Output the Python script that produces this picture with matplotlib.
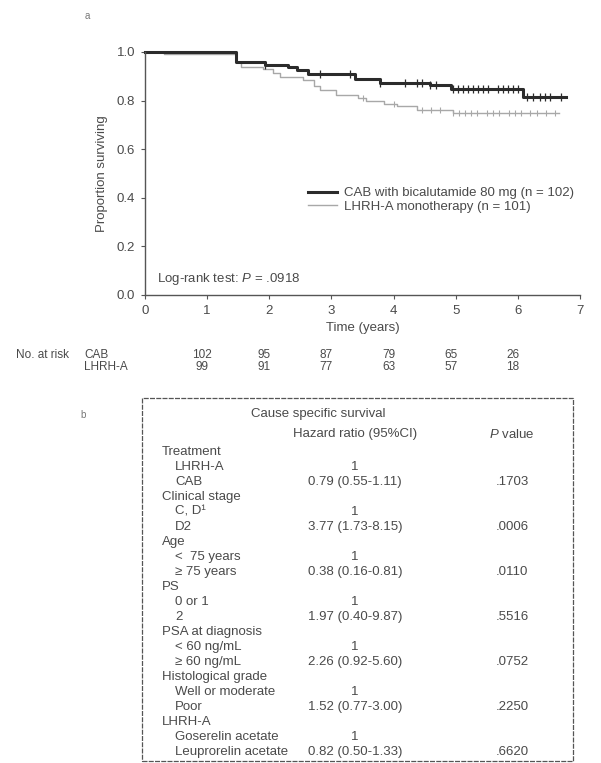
import matplotlib
matplotlib.use("Agg")
import matplotlib.pyplot as plt
import matplotlib.patches as mpatches
from matplotlib.lines import Line2D
from matplotlib.transforms import blended_transform_factory

plt.rcParams['font.family'] = ['Liberation Sans', 'DejaVu Sans']
plt.rcParams['mathtext.fontset'] = 'custom'
plt.rcParams['mathtext.rm'] = 'Liberation Sans'
plt.rcParams['mathtext.it'] = 'Liberation Sans:italic'

# Kaplan-Meier steps (time in years, proportion surviving)
cab_times = [0, 1.47, 1.93, 2.30, 2.45, 2.62, 3.38, 3.78, 4.58, 4.92, 6.08]
cab_surv = [1.0, 0.960, 0.948, 0.938, 0.924, 0.910, 0.889, 0.874, 0.863, 0.849, 0.815]
cab_end = 6.78
cab_censor = [1.93, 2.81, 3.30, 3.78, 4.18, 4.37, 4.45, 4.58, 4.69, 4.96, 5.04, 5.12,
              5.20, 5.28, 5.36, 5.44, 5.52, 5.68, 5.76, 5.84, 5.92, 6.00, 6.14, 6.24,
              6.35, 6.43, 6.51, 6.70]

lhrh_times = [0, 0.30, 1.47, 1.55, 1.90, 2.06, 2.17, 2.54, 2.72, 2.82, 3.08, 3.43,
              3.56, 3.84, 4.05, 4.37, 4.95]
lhrh_surv = [1.0, 0.990, 0.958, 0.940, 0.929, 0.912, 0.898, 0.884, 0.862, 0.845,
             0.824, 0.810, 0.800, 0.787, 0.776, 0.760, 0.750]
lhrh_end = 6.67
lhrh_censor = [3.50, 4.00, 4.45, 4.60, 4.75, 4.95, 5.05, 5.15, 5.25, 5.35, 5.50, 5.60,
               5.70, 5.85, 5.95, 6.05, 6.20, 6.30, 6.45, 6.60]

# number at risk
risk_times = [1, 2, 3, 4, 5, 6]
risk_cab = [102, 95, 87, 79, 65, 26]
risk_lhrh = [99, 91, 77, 63, 57, 18]

# table b
row_labels = ["Treatment", "LHRH-A", "CAB", "Clinical stage", "C, D\u00b9", "D2", "Age",
              "<  75 years", "\u2265 75 years", "PS", "0 or 1", "2", "PSA at diagnosis",
              "< 60 ng/mL", "\u2265 60 ng/mL", "Histological grade", "Well or moderate",
              "Poor", "LHRH-A", "Goserelin acetate", "Leuprorelin acetate"]
row_indent = [0, 1, 1, 0, 1, 1, 0, 1, 1, 0, 1, 1, 0, 1, 1, 0, 1, 1, 0, 1, 1]
hazard = ["", "1", "0.79 (0.55-1.11)", "", "1", "3.77 (1.73-8.15)", "", "1",
          "0.38 (0.16-0.81)", "", "1", "1.97 (0.40-9.87)", "", "1", "2.26 (0.92-5.60)",
          "", "1", "1.52 (0.77-3.00)", "", "1", "0.82 (0.50-1.33)"]
p_values = ["", "", ".1703", "", "", ".0006", "", "", ".0110", "", "", ".5516", "", "",
            ".0752", "", "", ".2250", "", "", ".6620"]

W, H = 601, 763
TXT = "#4a4a4a"
DARK = "#2b2b2b"
LIGHT = "#a8a8a8"
FS = 9.5


def fx(x):
    return x / W


def fy(y):
    return 1 - y / H


fig = plt.figure(figsize=(W / 100, H / 100), dpi=100)
fig.patch.set_facecolor("white")

ax = fig.add_axes([fx(145), fy(295), (580 - 145) / W, (295 - 52) / H])
ax.step(lhrh_times + [lhrh_end], lhrh_surv + [lhrh_surv[-1]], where="post",
        color=LIGHT, lw=1.0, clip_on=False)
ax.step(cab_times + [cab_end], cab_surv + [cab_surv[-1]], where="post",
        color=DARK, lw=2.2, clip_on=False)


# censor marks sit on the curve
def surv_at(t, times, surv):
    s = surv[0]
    for tt, ss in zip(times, surv):
        if tt <= t:
            s = ss
    return s


ax.plot(lhrh_censor, [surv_at(t, lhrh_times, lhrh_surv) for t in lhrh_censor],
        ls="none", marker="|", ms=5, mew=0.8, color=LIGHT, clip_on=False)
ax.plot(cab_censor, [surv_at(t, cab_times, cab_surv) for t in cab_censor],
        ls="none", marker="|", ms=6, mew=0.9, color=DARK, clip_on=False)

ax.set_xlim(0, 7)
ax.set_ylim(0, 1.0)
ax.set_xticks(range(0, 8))
ax.set_yticks([0.0, 0.2, 0.4, 0.6, 0.8, 1.0])
ax.set_yticklabels(["0.0", "0.2", "0.4", "0.6", "0.8", "1.0"])
for s in ["top", "right"]:
    ax.spines[s].set_visible(False)
for s in ["left", "bottom"]:
    ax.spines[s].set_color("#555555")
    ax.spines[s].set_linewidth(1.0)
ax.tick_params(direction="out", length=3, width=0.8, colors="#555555",
               labelcolor=TXT, labelsize=FS, pad=4)
ax.set_xlabel("Time (years)", fontsize=FS, color=TXT, labelpad=4)
ax.set_ylabel("Proportion surviving", fontsize=FS, color=TXT, labelpad=6)

handles = [Line2D([], [], color=DARK, lw=2.2), Line2D([], [], color=LIGHT, lw=1.0)]
ax.legend(handles, ["CAB with bicalutamide 80 mg (n = 102)", "LHRH-A monotherapy (n = 101)"],
          loc="upper left", bbox_to_anchor=(fx(308), fy(187)), bbox_transform=fig.transFigure,
          frameon=False, fontsize=FS, handlelength=2.2, handletextpad=0.5,
          labelspacing=0.1, borderpad=0, borderaxespad=0, labelcolor=TXT)

ax.text(fx(157), fy(279), "Log-rank test: $P$ = .0918", transform=fig.transFigure,
        fontsize=FS, color=TXT, va="center")

fig.text(fx(85), fy(16), "a", fontsize=7, color="#777777", va="center")

# number at risk rows
RS = 8.5
bt = blended_transform_factory(ax.transData, fig.transFigure)
fig.text(fx(16), fy(355), "No. at risk", fontsize=RS, color=TXT, va="center")
fig.text(fx(84), fy(355), "CAB", fontsize=RS, color=TXT, va="center")
fig.text(fx(84), fy(367), "LHRH-A", fontsize=RS, color=TXT, va="center")
for t, a, b in zip(risk_times, risk_cab, risk_lhrh):
    ax.text(t - 0.08, fy(355), str(a), transform=bt, ha="center", va="center",
            fontsize=RS, color=TXT)
    ax.text(t - 0.08, fy(367), str(b), transform=bt, ha="center", va="center",
            fontsize=RS, color=TXT)

# panel b: Cox table
fig.text(fx(80), fy(415), "b", fontsize=7, color="#777777", va="center")
box = mpatches.Rectangle((fx(142), fy(761)), (573 - 142) / W, (761 - 398) / H,
                         transform=fig.transFigure, fill=False, ec="#555555", lw=0.9,
                         ls=(0, (4, 1)))
fig.add_artist(box)
fig.text(fx(318), fy(414), "Cause specific survival", fontsize=FS, color=TXT,
         ha="center", va="center")
fig.text(fx(355), fy(434), "Hazard ratio (95%CI)", fontsize=FS, color=TXT,
         ha="center", va="center")
fig.text(fx(512), fy(434), "$P$ value", fontsize=FS, color=TXT, ha="center", va="center")

row0, step = 452, 15.0
for i, (lab, ind, hr, p) in enumerate(zip(row_labels, row_indent, hazard, p_values)):
    y = fy(row0 + i * step)
    fig.text(fx(162 + 13 * ind), y, lab, fontsize=FS, color=TXT, va="center")
    if hr:
        fig.text(fx(355), y, hr, fontsize=FS, color=TXT, ha="center", va="center")
    if p:
        fig.text(fx(512), y, p, fontsize=FS, color=TXT, ha="center", va="center")

fig.savefig("out.png", dpi=100, facecolor="white")
